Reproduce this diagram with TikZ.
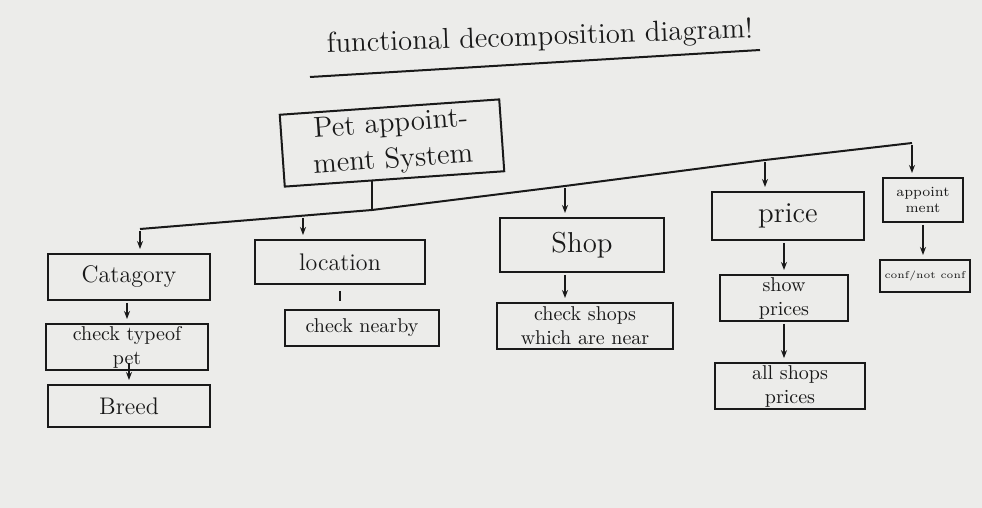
\documentclass[tikz,border=0pt]{standalone}
\usetikzlibrary{arrows.meta}
\definecolor{paper}{RGB}{236,236,234}
\definecolor{ink}{RGB}{25,25,25}
\tikzset{
  box/.style={draw=ink,line width=1pt,text=ink,align=center,inner sep=1pt},
  link/.style={draw=ink,line width=1pt},
  arr/.style={link,-{Stealth[length=4pt]},shorten <=1pt,shorten >=2pt}
}
\begin{document}
\begin{tikzpicture}[x=0.5pt,y=-0.5pt]
  \fill[paper] (0,0) rectangle (982,508);
  \useasboundingbox (0,0) rectangle (982,508);

  \node[text=ink,rotate=2,font=\Large] (title) at (540,38) {functional decomposition diagram!};
  \coordinate (U1) at (310,77);
  \coordinate (U2) at (760,50);
  \draw[link] (U1) -- (U2);

  \node[box,rotate=4,font=\Large,minimum width=110pt,minimum height=36pt] (root) at (392,143) {Pet appoint-\\ment System};

  \node[box,font=\large,minimum width=81pt,minimum height=23pt] (cat) at (129,277) {Catagory};
  \node[box,minimum width=81pt,minimum height=23pt] (typeof) at (127,347) {check typeof\\pet};
  \node[box,font=\large,minimum width=81pt,minimum height=21pt] (breed) at (129,406) {Breed};

  \node[box,font=\large,minimum width=85pt,minimum height=22pt] (loc) at (340,262) {location};
  \node[box,minimum width=77pt,minimum height=18pt] (near) at (362,328) {check nearby};

  \node[box,font=\Large,minimum width=82pt,minimum height=27pt] (shop) at (582,245) {Shop};
  \node[box,minimum width=88pt,minimum height=23pt] (shopnear) at (585,326) {check shops\\which are near};

  \node[box,font=\Large,minimum width=76pt,minimum height=24pt] (price) at (788,216) {price};
  \node[box,minimum width=64pt,minimum height=23pt] (show) at (784,298) {show\\prices};
  \node[box,minimum width=75pt,minimum height=21pt] (allp) at (790,386) {all shops\\prices};

  \node[box,font=\scriptsize,minimum width=40pt,minimum height=22pt] (app) at (923,200) {appoint\\ment};
  \node[box,font=\tiny,inner xsep=2.5pt,minimum width=40pt,minimum height=16pt] (conf) at (925,276) {conf/not conf};

  \coordinate (busL) at (140,229);
  \coordinate (busLoc) at (303,216);
  \coordinate (busJ) at (372,210);
  \coordinate (busS) at (565,186);
  \coordinate (busP) at (765,160);
  \coordinate (busA) at (912,143);

  \draw[link] (busJ |- root.south) -- (busJ);
  \draw[link] (busL) -- (busJ) -- (busS) -- (busP) -- (busA);
  \draw[arr] (busL) -- (busL |- cat.north);
  \draw[arr] (busLoc) -- (busLoc |- loc.north);
  \draw[arr] (busS) -- (busS |- shop.north);
  \draw[arr] (busP) -- (busP |- price.north);
  \draw[arr] (busA) -- (busA |- app.north);

  \draw[arr] (cat.south -| typeof.north) -- (typeof.north);
  \draw[arr,shorten <=-4pt] (typeof.south -| breed.north) -- (breed.north);
  \draw[link,shorten <=3pt,shorten >=4pt] (loc.south) -- (loc.south |- near.north);
  \draw[arr] (shop.south -| busS) -- (busS |- shopnear.north);
  \draw[arr] (price.south -| show.north) -- (show.north);
  \draw[arr] (show.south -| show.north) -- (show.north |- allp.north);
  \draw[arr] (app.south) -- (app.south |- conf.north);
\end{tikzpicture}
\end{document}
